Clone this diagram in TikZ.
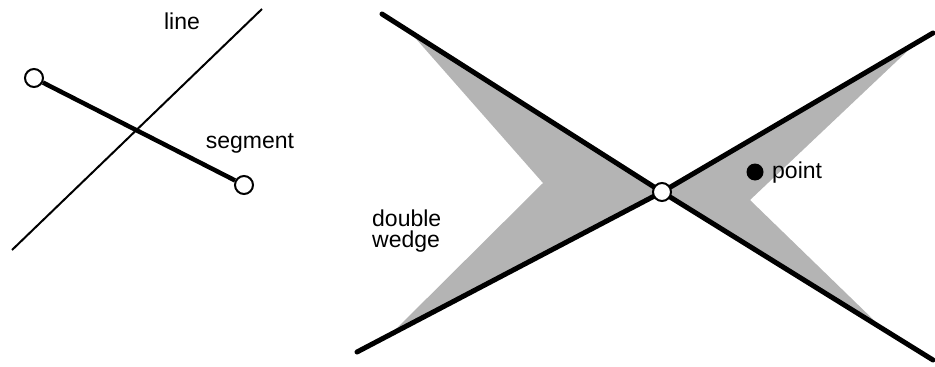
\documentclass[tikz,border=0pt]{standalone}
\usepackage{fontspec}
\setmainfont{Liberation Sans}
\usepackage{xcolor}
\definecolor{cInk}{HTML}{000000}
\definecolor{cShade}{HTML}{B4B4B4}
\usepackage{tikz}
\usetikzlibrary{positioning}
\tikzset{
  end-open/.style={draw=cInk,line width=2pt,circle,fill=white,
    minimum size=18pt,inner sep=0pt},
  end-dot/.style={circle,fill=cInk,minimum size=17pt,inner sep=0pt},
  label-text/.style={font=\fontsize{23}{21}\selectfont,inner sep=0pt,align=left},
  line-thin/.style={draw=cInk,line width=2pt},
  line-seg/.style={draw=cInk,line width=4.5pt},
  line-wedge/.style={draw=cInk,line width=5pt,line cap=round},
  wedge-fill/.style={fill=cShade,draw=none},
}
\begin{document}
\begin{tikzpicture}[x=1pt,y=-1pt]
  \useasboundingbox (0,0) rectangle (935,367);
  % left: line and segment
  \coordinate (lnA) at (12,250);
  \coordinate (lnB) at (262,9);
  \node[end-open] (segA) at (34,78)  {};
  \node[end-open] (segB) at (244,185) {};
  \draw[line-thin] (lnA) -- (lnB);
  \draw[line-seg] (segA) -- (segB);
  \node[label-text] (lLine) at (182,21) {line};
  \node[label-text] (lSeg)  at (250,143) {segment};
  % right: double wedge
  \coordinate (wc)  at (662,192);
  \coordinate (wUL) at (382,14);
  \coordinate (wLL) at (357,352);
  \coordinate (wUR) at (933,33);
  \coordinate (wLR) at (933,360);
  \fill[wedge-fill] (wc) -- (410,32) -- (543,183) -- (390,335) -- cycle;
  \fill[wedge-fill] (wc) -- (917,42) -- (750,200) -- (883,329) -- cycle;
  \draw[line-wedge] (wUL) -- (wc) -- (wLR);
  \draw[line-wedge] (wLL) -- (wc) -- (wUR);
  \node[end-open] (wApex) at (wc) {};
  \node[end-dot] (pt) at (755,172) {};
  \node[label-text,anchor=west] (lPt) at (772,173) {point};
  \node[label-text,anchor=west] (lWedge) at (372,231) {double\\wedge};
\end{tikzpicture}
\end{document}
